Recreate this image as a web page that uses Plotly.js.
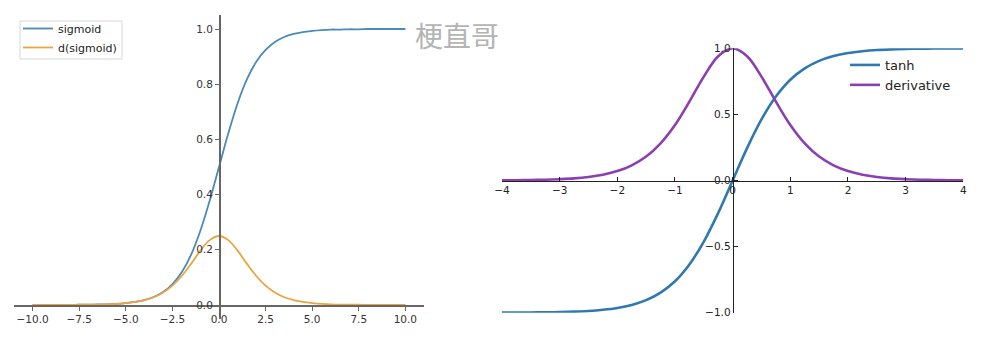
<!DOCTYPE html>
<html>
<head>
<meta charset="utf-8">
<script src="https://cdn.plot.ly/plotly-3.0.1.min.js"></script>
<style>
  html, body { margin: 0; padding: 0; background: #ffffff; }
  #chart { width: 992px; height: 340px; }
</style>
</head>
<body>
<div id="chart"></div>
<script>
// Sigmoid and its derivative, sampled every 0.5 on [-10, 10]
const sigX = [-10, -9.5, -9, -8.5, -8, -7.5, -7, -6.5, -6, -5.5, -5, -4.5, -4, -3.5, -3, -2.5, -2, -1.5, -1, -0.5,
              0, 0.5, 1, 1.5, 2, 2.5, 3, 3.5, 4, 4.5, 5, 5.5, 6, 6.5, 7, 7.5, 8, 8.5, 9, 9.5, 10];
const sigY = [0.000, 0.000, 0.000, 0.000, 0.000, 0.001, 0.001, 0.002, 0.002, 0.004, 0.007, 0.011, 0.018, 0.029, 0.047,
              0.076, 0.119, 0.182, 0.269, 0.378, 0.500, 0.622, 0.731, 0.818, 0.881, 0.924, 0.953, 0.971, 0.982, 0.989,
              0.993, 0.996, 0.998, 0.998, 0.999, 0.999, 1.000, 1.000, 1.000, 1.000, 1.000];
const dSigY = [0.000, 0.000, 0.000, 0.000, 0.000, 0.001, 0.001, 0.001, 0.002, 0.004, 0.007, 0.011, 0.018, 0.028, 0.045,
               0.070, 0.105, 0.149, 0.197, 0.235, 0.250, 0.235, 0.197, 0.149, 0.105, 0.070, 0.045, 0.028, 0.018, 0.011,
               0.007, 0.004, 0.002, 0.001, 0.001, 0.001, 0.000, 0.000, 0.000, 0.000, 0.000];

// tanh and its derivative, sampled every 0.25 on [-4, 4]
const tanhX = [-4, -3.75, -3.5, -3.25, -3, -2.75, -2.5, -2.25, -2, -1.75, -1.5, -1.25, -1, -0.75, -0.5, -0.25,
               0, 0.25, 0.5, 0.75, 1, 1.25, 1.5, 1.75, 2, 2.25, 2.5, 2.75, 3, 3.25, 3.5, 3.75, 4];
const tanhY = [-0.999, -0.999, -0.998, -0.997, -0.995, -0.992, -0.987, -0.978, -0.964, -0.941, -0.905, -0.848, -0.762,
               -0.635, -0.462, -0.245, 0.000, 0.245, 0.462, 0.635, 0.762, 0.848, 0.905, 0.941, 0.964, 0.978, 0.987,
               0.992, 0.995, 0.997, 0.998, 0.999, 0.999];
const dTanhY = [0.001, 0.002, 0.004, 0.006, 0.010, 0.016, 0.027, 0.044, 0.071, 0.115, 0.181, 0.281, 0.420, 0.597,
                0.786, 0.940, 1.000, 0.940, 0.786, 0.597, 0.420, 0.281, 0.181, 0.115, 0.071, 0.044, 0.027, 0.016,
                0.010, 0.006, 0.004, 0.002, 0.001];

const leftTicksX = [-10, -7.5, -5, -2.5, 0, 2.5, 5, 7.5, 10];
const leftTicksY = [0, 0.2, 0.4, 0.6, 0.8, 1.0];
const rightTicksX = [-4, -3, -2, -1, 0, 1, 2, 3, 4];
const rightTicksY = [-1, -0.5, 0, 0.5, 1];

const W = 992, H = 340;
const px = v => v / W;
const py = v => (H - v) / H;

const traces = [
  { x: sigX, y: sigY, name: 'sigmoid', xaxis: 'x', yaxis: 'y', legend: 'legend',
    mode: 'lines', line: { color: '#4a8ab8', width: 1.8, shape: 'spline', smoothing: 1 } },
  { x: sigX, y: dSigY, name: 'd(sigmoid)', xaxis: 'x', yaxis: 'y', legend: 'legend',
    mode: 'lines', line: { color: '#eba540', width: 1.8, shape: 'spline', smoothing: 1 } },
  { x: tanhX, y: tanhY, name: 'tanh', xaxis: 'x2', yaxis: 'y2', legend: 'legend2',
    mode: 'lines', line: { color: '#2f79b0', width: 2.6, shape: 'spline', smoothing: 1 } },
  { x: tanhX, y: dTanhY, name: 'derivative', xaxis: 'x2', yaxis: 'y2', legend: 'legend2',
    mode: 'lines', line: { color: '#8a3fb3', width: 2.6, shape: 'spline', smoothing: 1 } }
];

const tickFont = { family: 'DejaVu Sans', size: 10.5, color: '#333333' };

const layout = {
  width: W, height: H,
  margin: { l: 0, r: 0, t: 0, b: 0 },
  paper_bgcolor: '#ffffff', plot_bgcolor: 'rgba(0,0,0,0)',
  showlegend: true,
  // left panel: spines pass through the origin, ticks point outward
  xaxis: {
    domain: [px(14), px(424)], range: [-11, 11],
    anchor: 'free', position: py(305),
    showgrid: false, zeroline: false,
    showline: true, linecolor: '#666666', linewidth: 1.5,
    tickmode: 'array', tickvals: leftTicksX, tickformat: '.1f',
    ticks: 'outside', ticklen: 4, tickcolor: '#666666', tickwidth: 1,
    tickfont: tickFont
  },
  yaxis: {
    domain: [py(318.8), py(15.2)], range: [-0.05, 1.05],
    anchor: 'free', position: px(219),
    showgrid: false, zeroline: false,
    showline: true, linecolor: '#666666', linewidth: 1.5,
    tickmode: 'array', tickvals: leftTicksY, tickformat: '.1f',
    ticks: 'outside', ticklen: 4, tickcolor: '#666666', tickwidth: 1,
    tickfont: tickFont
  },
  // right panel: axes cross at zero, ticks point inward
  xaxis2: {
    domain: [px(502), px(963.3)], range: [-4, 4],
    anchor: 'free', position: py(180.5),
    showgrid: false, zeroline: false,
    showline: true, linecolor: '#222222', linewidth: 1,
    tickmode: 'array', tickvals: rightTicksX, tickformat: 'd',
    ticks: 'inside', ticklen: 4, tickcolor: '#222222', tickwidth: 1,
    tickfont: { family: 'DejaVu Sans', size: 10.5, color: '#222222' }
  },
  yaxis2: {
    domain: [py(312.7), py(48.3)], range: [-1, 1],
    anchor: 'free', position: px(732.7),
    showgrid: false, zeroline: false,
    showline: true, linecolor: '#222222', linewidth: 1,
    tickmode: 'array', tickvals: rightTicksY, tickformat: '.1f',
    ticks: 'inside', ticklen: 4, tickcolor: '#222222', tickwidth: 1,
    tickfont: { family: 'DejaVu Sans', size: 10.5, color: '#222222' }
  },
  // left legend frame is drawn as a shape so the rows can sit tighter inside it
  legend: {
    x: px(18), y: py(14), xanchor: 'left', yanchor: 'top',
    bgcolor: 'rgba(0,0,0,0)', borderwidth: 0,
    font: { family: 'DejaVu Sans', size: 11, color: '#222222' },
    tracegroupgap: 0, itemwidth: 30
  },
  legend2: {
    x: px(845), y: py(50), xanchor: 'left', yanchor: 'top',
    bgcolor: 'rgba(0,0,0,0)', borderwidth: 0,
    font: { family: 'DejaVu Sans', size: 13, color: '#222222' },
    tracegroupgap: 0, itemwidth: 30
  },
  shapes: [
    { type: 'rect', xref: 'paper', yref: 'paper',
      x0: px(20), x1: px(122), y0: py(59), y1: py(21),
      line: { color: '#d8d8d8', width: 1 }, fillcolor: 'rgba(255,255,255,0.8)', layer: 'below' }
  ],
  annotations: [
    { text: '梗直哥', xref: 'paper', yref: 'paper', x: px(457), y: py(35),
      xanchor: 'center', yanchor: 'middle', showarrow: false,
      font: { family: 'Noto Sans CJK SC', size: 28, color: '#b4b4b4' } }
  ]
};

Plotly.newPlot('chart', traces, layout, { staticPlot: true, displayModeBar: false });
</script>
</body>
</html>
